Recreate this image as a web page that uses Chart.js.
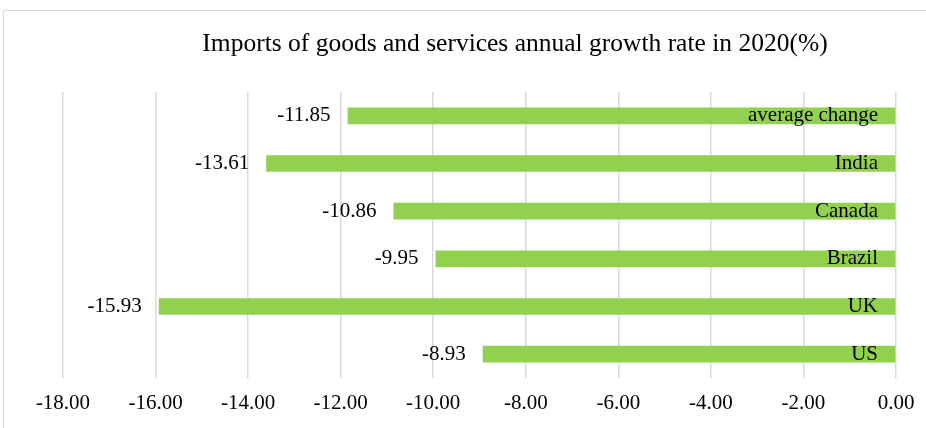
<!DOCTYPE html>
<html>
<head>
<meta charset="utf-8">
<script src="https://cdn.jsdelivr.net/npm/chart.js@4/dist/chart.umd.min.js"></script>
<style>
  html, body { margin: 0; padding: 0; background: #fff; }
  #wrap { position: relative; width: 926px; height: 428px; overflow: hidden; }
  #frame { position: absolute; left: 3px; top: 10px; width: 1000px; height: 500px;
           border: 1px solid #d9d9d9; box-sizing: border-box; }
  canvas { position: absolute; left: 0; top: 0; }
</style>
</head>
<body>
<div id="wrap">
  <div id="frame"></div>
  <canvas id="c" width="926" height="428"></canvas>
</div>
<script>
// Import growth by country, 2020 (%)
const titleText = 'Imports of goods and services annual growth rate in 2020(%)';
const categories = ['average change', 'India', 'Canada', 'Brazil', 'UK', 'US'];
const growth = [-11.85, -13.61, -10.86, -9.95, -15.93, -8.93];
const xMin = -18;
const xMax = 0;
const xStep = 2;

const serif = '"Liberation Serif", "Times New Roman", serif';

// Title, category names (inside the bars next to zero) and value labels
const annotate = {
  id: 'annotate',
  afterDatasetsDraw(chart) {
    const { ctx, scales: { x, y } } = chart;
    const meta = chart.getDatasetMeta(0);
    ctx.save();
    ctx.fillStyle = '#000';
    ctx.textBaseline = 'middle';

    ctx.font = '25.5px ' + serif;
    ctx.textAlign = 'center';
    ctx.fillText(titleText, 515, 44);

    ctx.font = '21px ' + serif;
    const zeroX = x.getPixelForValue(0);
    meta.data.forEach((bar, i) => {
      const cy = y.getPixelForValue(i);
      ctx.textAlign = 'right';
      ctx.fillText(categories[i], zeroX - 18, cy);
      ctx.fillText(growth[i].toFixed(2), bar.x - 17, cy);
    });
    ctx.restore();
  }
};

new Chart(document.getElementById('c'), {
  type: 'bar',
  data: {
    labels: categories,
    datasets: [{
      data: growth,
      backgroundColor: '#92d050',
      borderWidth: 0,
      categoryPercentage: 1,
      barPercentage: 0.35
    }]
  },
  options: {
    indexAxis: 'y',
    responsive: false,
    animation: false,
    layout: { padding: { left: 63, right: 30, top: 92, bottom: 0 } },
    plugins: { legend: { display: false }, tooltip: { enabled: false }, title: { display: false } },
    scales: {
      x: {
        min: xMin, max: xMax,
        afterFit(scale) {
          scale.height = 50;
          scale.paddingLeft = 0;
          scale.paddingRight = 0;
        },
        ticks: {
          stepSize: xStep,
          color: '#000',
          padding: 13,
          font: { family: serif, size: 21 },
          callback: v => Number(v).toFixed(2)
        },
        grid: { color: '#d9d9d9', lineWidth: 1.5, drawTicks: false },
        border: { display: false }
      },
      y: { display: false }
    }
  },
  plugins: [annotate]
});
</script>
</body>
</html>
